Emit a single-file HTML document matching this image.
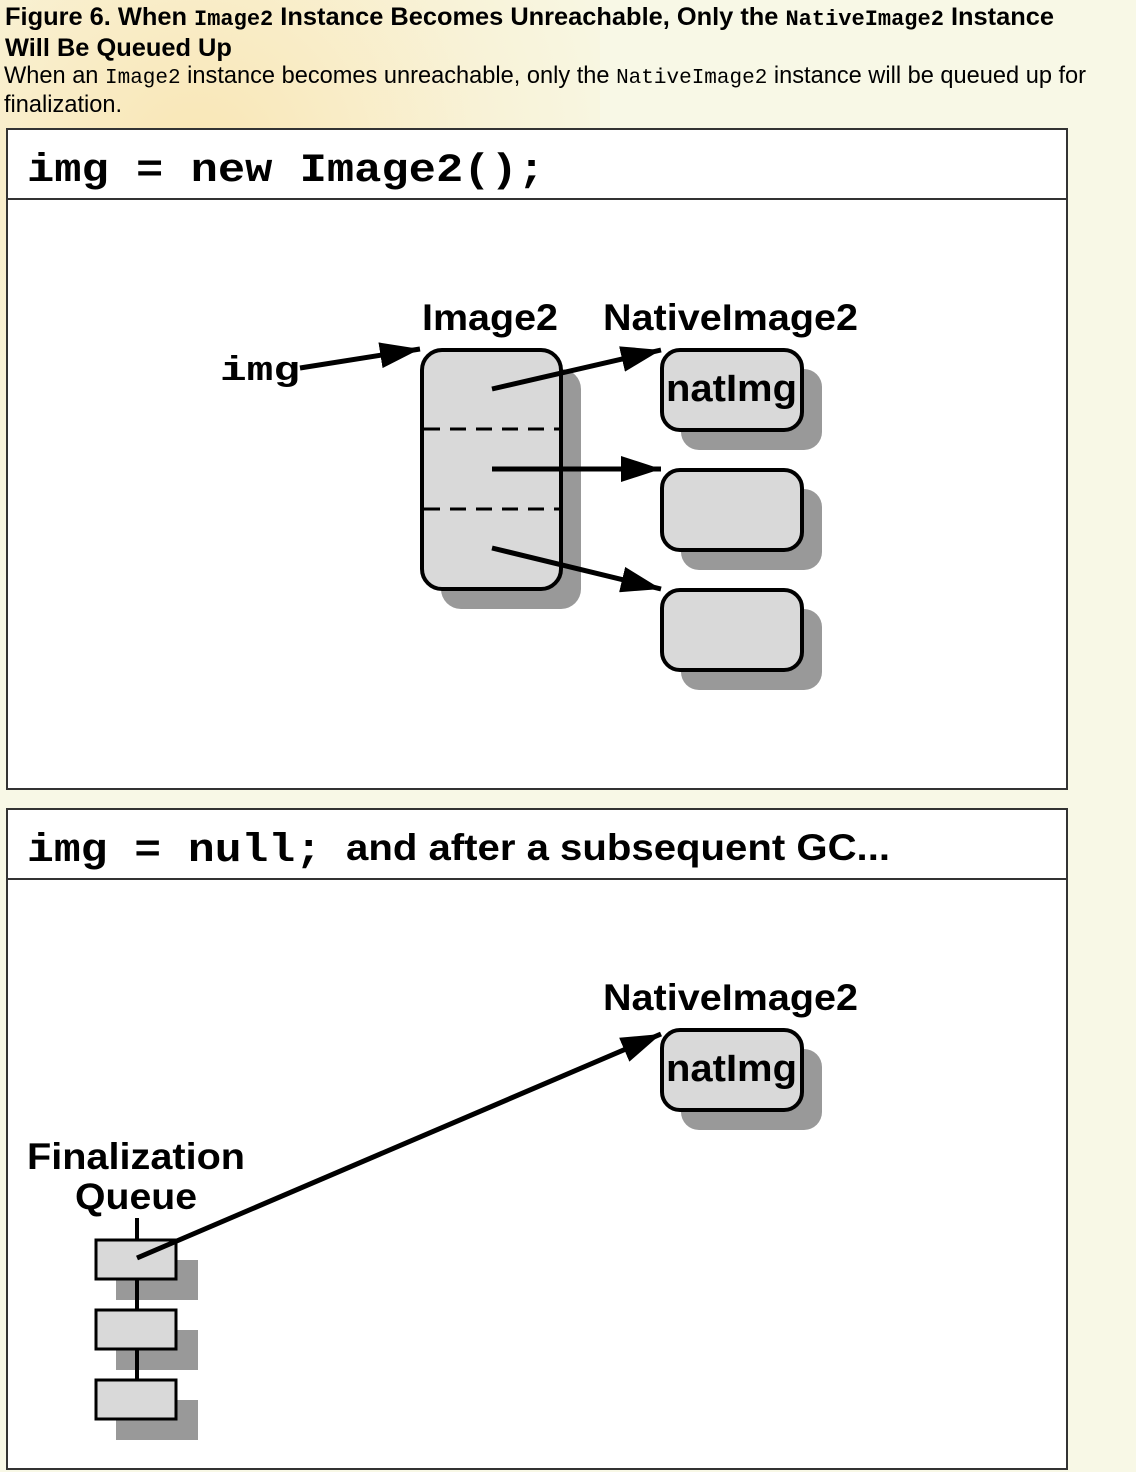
<!DOCTYPE html>
<html><head><style>
body{margin:0;width:1136px;height:1472px;overflow:hidden;background:#f8f8e6;font-family:"Liberation Sans",sans-serif;position:relative}
.glow{position:absolute;left:-300px;top:-200px;width:900px;height:900px;background:radial-gradient(circle at 55% 40%,rgba(250,215,140,.55),rgba(250,225,170,.25) 40%,rgba(248,248,230,0) 65%)}
.t{position:absolute;left:5px;top:3px;font-weight:bold;font-size:25.4px;line-height:29px;color:#000;white-space:nowrap}
.d{position:absolute;left:4px;top:63px;font-size:23.6px;line-height:27px;color:#000;white-space:nowrap}
code{font-family:"Liberation Mono",monospace}
svg{position:absolute;left:0;top:0}
</style></head><body>
<div class="glow"></div>
<div class="t">Figure 6. When <code style="font-size:22px">Image2</code> Instance Becomes Unreachable, Only the <code style="font-size:22px">NativeImage2</code> Instance<br>Will Be Queued Up</div>
<div class="d">When an <code style="font-size:21px">Image2</code> instance becomes unreachable, only the <code style="font-size:21px">NativeImage2</code> instance will be queued up for<br>finalization.</div>
<svg width="1136" height="1472" viewBox="0 0 1136 1472">
<defs><marker id="b" viewBox="0 0 40 26" refX="40" refY="13" markerWidth="40" markerHeight="26" orient="auto" markerUnits="userSpaceOnUse"><path d="M0,0L40,13L0,26Z"/></marker></defs>
<g stroke="#333" stroke-width="2" fill="#fff">
<rect x="7" y="129" width="1060" height="660"/><line x1="7" y1="199" x2="1067" y2="199"/>
<rect x="7" y="809" width="1060" height="660"/><line x1="7" y1="879" x2="1067" y2="879"/>
</g>
<text x="27" y="181" font-family="Liberation Mono,monospace" font-weight="bold" font-size="40" textLength="518" lengthAdjust="spacingAndGlyphs">img = new Image2();</text>
<text x="27" y="861" font-family="Liberation Mono,monospace" font-weight="bold" font-size="40" textLength="295" lengthAdjust="spacingAndGlyphs">img = null;</text>
<text x="346" y="860" font-weight="bold" font-size="37" textLength="544" lengthAdjust="spacingAndGlyphs">and after a subsequent GC...</text>
<g font-weight="bold" font-size="37">
<text x="422" y="330" textLength="136" lengthAdjust="spacingAndGlyphs">Image2</text>
<text x="603" y="330" textLength="255" lengthAdjust="spacingAndGlyphs">NativeImage2</text>
<text x="603" y="1010" textLength="255" lengthAdjust="spacingAndGlyphs">NativeImage2</text>
<text x="27" y="1169" textLength="218" lengthAdjust="spacingAndGlyphs">Finalization</text>
<text x="75" y="1209" textLength="122" lengthAdjust="spacingAndGlyphs">Queue</text>
</g>
<text x="220" y="380" font-family="Liberation Mono,monospace" font-weight="bold" font-size="34" textLength="80" lengthAdjust="spacingAndGlyphs">img</text>
<g fill="#999">
<rect x="441" y="369" width="140" height="240" rx="20"/>
<rect x="681" y="369" width="141" height="81" rx="18"/>
<rect x="681" y="489" width="141" height="81" rx="18"/>
<rect x="681" y="609" width="141" height="81" rx="18"/>
<rect x="681" y="1049" width="141" height="81" rx="18"/>
<rect x="116" y="1260" width="82" height="40"/><rect x="116" y="1330" width="82" height="40"/><rect x="116" y="1400" width="82" height="40"/>
</g>
<g fill="#d9d9d9" stroke="#000" stroke-width="4">
<rect x="422" y="350" width="139" height="239" rx="20"/>
<rect x="662" y="350" width="140" height="80" rx="18"/>
<rect x="662" y="470" width="140" height="80" rx="18"/>
<rect x="662" y="590" width="140" height="80" rx="18"/>
<rect x="662" y="1030" width="140" height="80" rx="18"/>
</g>
<g stroke="#000" stroke-width="3" stroke-dasharray="16,10"><line x1="424" y1="429" x2="560" y2="429"/><line x1="424" y1="509" x2="560" y2="509"/></g>
<g font-weight="bold" font-size="38"><text x="666" y="401" textLength="131" lengthAdjust="spacingAndGlyphs">natImg</text><text x="666" y="1081" textLength="131" lengthAdjust="spacingAndGlyphs">natImg</text></g>
<line x1="137" y1="1218" x2="137" y2="1420" stroke="#000" stroke-width="4"/>
<g fill="#d9d9d9" stroke="#000" stroke-width="3">
<rect x="96" y="1240" width="80" height="39"/><rect x="96" y="1310" width="80" height="39"/><rect x="96" y="1380" width="80" height="39"/>
</g>
<g stroke="#000" stroke-width="5" marker-end="url(#b)">
<line x1="300" y1="368" x2="420" y2="349"/>
<line x1="492" y1="389" x2="661" y2="350"/>
<line x1="492" y1="469" x2="661" y2="469"/>
<line x1="492" y1="548" x2="661" y2="589"/>
<line x1="137" y1="1258" x2="661" y2="1034"/>
</g>
</svg>
</body></html>
